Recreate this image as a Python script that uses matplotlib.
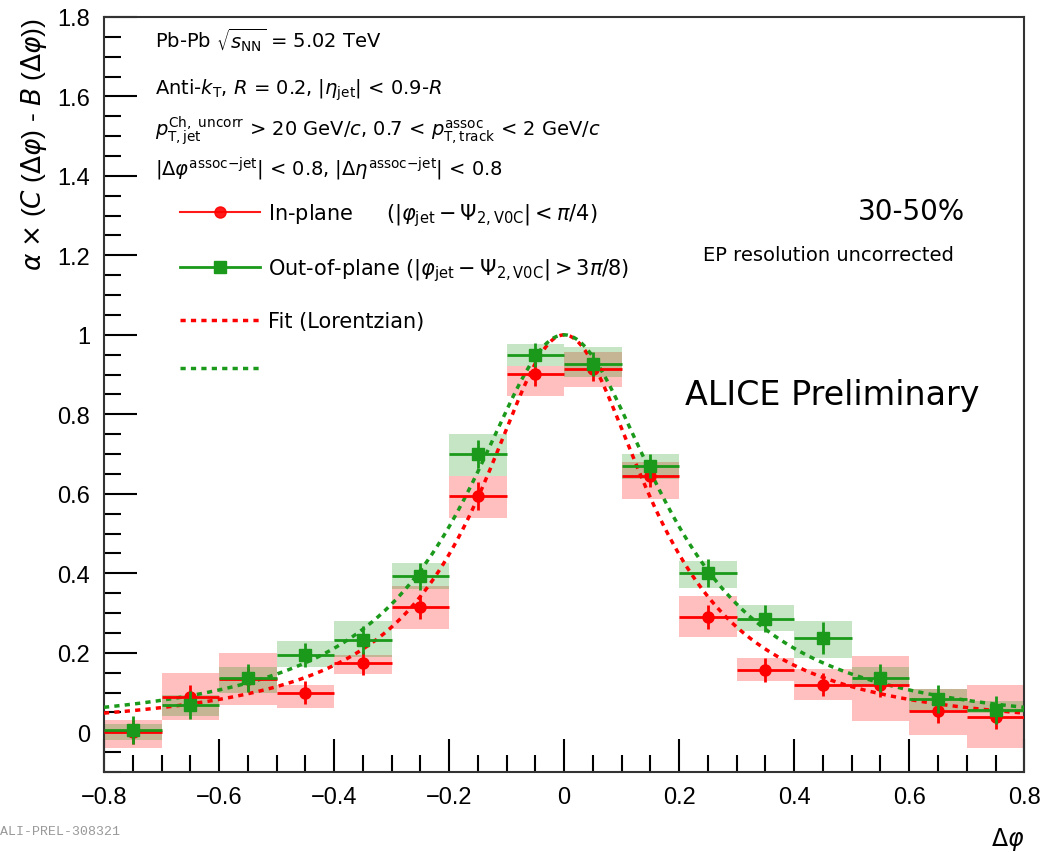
import numpy as np
import matplotlib
matplotlib.use("Agg")
from matplotlib import pyplot as plt
from matplotlib.lines import Line2D
from matplotlib.patches import Rectangle

plt.rcParams["font.family"] = ["Liberation Sans", "DejaVu Sans"]
plt.rcParams["mathtext.fontset"] = "dejavusans"

# bin centres (width 0.1)
dphi = [-0.75, -0.65, -0.55, -0.45, -0.35, -0.25, -0.15, -0.05,
        0.05, 0.15, 0.25, 0.35, 0.45, 0.55, 0.65, 0.75]
bin_half = 0.05

# in-plane
in_y = [0.0, 0.088, 0.135, 0.10, 0.173, 0.316, 0.595, 0.902,
        0.915, 0.646, 0.29, 0.156, 0.12, 0.118, 0.053, 0.038]
in_stat = [0.03, 0.03, 0.03, 0.03, 0.03, 0.03, 0.035, 0.03,
           0.03, 0.03, 0.03, 0.03, 0.03, 0.03, 0.03, 0.03]
in_sys_lo = [-0.04, 0.03, 0.068, 0.06, 0.146, 0.26, 0.54, 0.847,
             0.87, 0.588, 0.24, 0.128, 0.08, 0.028, -0.007, -0.04]
in_sys_hi = [0.03, 0.15, 0.20, 0.118, 0.195, 0.367, 0.645, 0.922,
             0.957, 0.68, 0.344, 0.186, 0.16, 0.193, 0.11, 0.118]

# out-of-plane
out_y = [0.005, 0.068, 0.137, 0.194, 0.232, 0.392, 0.70, 0.95,
         0.927, 0.671, 0.40, 0.286, 0.238, 0.136, 0.083, 0.055]
out_stat = [0.035, 0.035, 0.035, 0.03, 0.035, 0.035, 0.035, 0.03,
            0.03, 0.03, 0.035, 0.035, 0.04, 0.035, 0.035, 0.035]
out_sys_lo = [-0.02, 0.04, 0.10, 0.165, 0.19, 0.36, 0.645, 0.922,
              0.894, 0.638, 0.362, 0.254, 0.186, 0.118, 0.053, 0.048]
out_sys_hi = [0.02, 0.093, 0.165, 0.23, 0.28, 0.425, 0.75, 0.977,
              0.97, 0.70, 0.432, 0.32, 0.28, 0.165, 0.11, 0.078]

# Lorentzian fit parameters (amplitude, width)
fit_in = (1.0, 0.18)
fit_out = (1.0, 0.207)

red = "#ff0000"
green = "#1a991a"
txt_font = ["DejaVu Sans"]


def lorentzian(x, amp, gamma):
    return amp * gamma ** 2 / (x ** 2 + gamma ** 2)


fig = plt.figure(figsize=(10.44, 8.53), dpi=100)
ax = fig.add_axes([0.0996, 0.0938, 0.8815, 0.8852])

for yl, yh, x in zip(in_sys_lo, in_sys_hi, dphi):
    ax.add_patch(Rectangle((x - bin_half, yl), 2 * bin_half, yh - yl,
                           facecolor=red, alpha=0.25, lw=0, zorder=1))
for yl, yh, x in zip(out_sys_lo, out_sys_hi, dphi):
    ax.add_patch(Rectangle((x - bin_half, yl), 2 * bin_half, yh - yl,
                           facecolor=green, alpha=0.25, lw=0, zorder=1))

xs = np.linspace(-0.8, 0.8, 400)
ax.plot(xs, lorentzian(xs, *fit_in), color=red, ls=(0, (1.5, 1.5)), lw=2.5, zorder=3)
ax.plot(xs, lorentzian(xs, *fit_out), color=green, ls=(0, (1.5, 1.5)), lw=2.5, zorder=3)

ax.errorbar(dphi, in_y, xerr=bin_half, yerr=in_stat, fmt="o", color=red,
            ms=8, elinewidth=2, capsize=0, zorder=4)
ax.errorbar(dphi, out_y, xerr=bin_half, yerr=out_stat, fmt="s", color=green,
            ms=8, elinewidth=2, capsize=0, zorder=5)

ax.set_xlim(-0.8, 0.8)
ax.set_ylim(-0.1, 1.8)
ax.set_xticks(np.arange(-0.8, 0.81, 0.2))
ax.set_xticklabels(["\u22120.8", "\u22120.6", "\u22120.4", "\u22120.2", "0",
                    "0.2", "0.4", "0.6", "0.8"])
ax.set_xticks(np.arange(-0.8, 0.81, 0.05), minor=True)
ax.set_yticks(np.arange(0, 1.81, 0.2))
ax.set_yticklabels(["0", "0.2", "0.4", "0.6", "0.8", "1", "1.2", "1.4", "1.6", "1.8"])
ax.set_yticks(np.arange(-0.1, 1.81, 0.05), minor=True)
ax.tick_params(which="both", direction="in", labelsize=17, width=1.5, pad=10,
               top=False, right=False)
ax.tick_params(which="major", length=24)
ax.tick_params(which="minor", length=12)
for s in ax.spines.values():
    s.set_linewidth(1.5)
    s.set_color("#333333")

ax.set_ylabel(r"$\alpha$ $\times$ ($C$ ($\Delta\varphi$) - $B$ ($\Delta\varphi$))",
              fontsize=19, loc="top", labelpad=6)
ax.set_xlabel(r"$\Delta\varphi$", fontsize=17, loc="right", labelpad=12)

tx = 0.055
header = [
    (0.960, r"Pb-Pb $\sqrt{s_{\rm NN}}$ = 5.02 TeV"),
    (0.898, r"Anti-$k_{\rm T}$, $R$ = 0.2, $|\eta_{\rm jet}|$ < 0.9-$R$"),
    (0.842, r"$p_{\rm T,jet}^{\rm Ch,\ uncorr}$ > 20 GeV/$c$, 0.7 < "
            r"$p_{\rm T,track}^{\rm assoc}$ < 2 GeV/$c$"),
    (0.791, r"$|\Delta\varphi^{\rm assoc{-}jet}|$ < 0.8, "
            r"$|\Delta\eta^{\rm assoc{-}jet}|$ < 0.8"),
]
for yy, s in header:
    ax.text(tx, yy, s, transform=ax.transAxes, fontsize=14, va="baseline",
            family=txt_font)

ax.text(0.877, 0.743, "30-50%", transform=ax.transAxes, fontsize=20,
        ha="center", va="center", family=txt_font)
ax.text(0.787, 0.685, "EP resolution uncorrected", transform=ax.transAxes,
        fontsize=14, ha="center", va="center", family=txt_font)
ax.text(0.791, 0.5, "ALICE Preliminary", transform=ax.transAxes, fontsize=24,
        ha="center", va="center", family=txt_font)

handles = [
    Line2D([], [], color=red, marker="o", ms=8, lw=1.5, alpha=0.9),
    Line2D([], [], color=green, marker="s", ms=8, lw=2),
    Line2D([], [], color=red, ls=(0, (1.5, 1.5)), lw=2.5),
    Line2D([], [], color=green, ls=(0, (1.5, 1.5)), lw=2.5),
]
labels = [
    r"In-plane     $(|\varphi_{\rm jet} - \Psi_{2,\rm V0C}| < \pi/4)$",
    r"Out-of-plane $(|\varphi_{\rm jet} - \Psi_{2,\rm V0C}| > 3\pi/8)$",
    "Fit (Lorentzian)",
    "Fit (Lorentzian)",
]
leg = ax.legend(handles, labels, loc="upper left", bbox_to_anchor=(0.074, 0.767),
                frameon=False, prop={"family": txt_font, "size": 15},
                handlelength=3.8, handletextpad=0.4, labelspacing=1.35,
                borderaxespad=0)
# the second fit entry has no text in the reference
leg.get_texts()[3].set_alpha(0)

fig.text(0.0, 0.018, "ALI-PREL-308321", fontsize=9.5, color="#999999",
         family=["Liberation Mono", "DejaVu Sans Mono"], va="bottom")

fig.savefig("out.png", dpi=100)
